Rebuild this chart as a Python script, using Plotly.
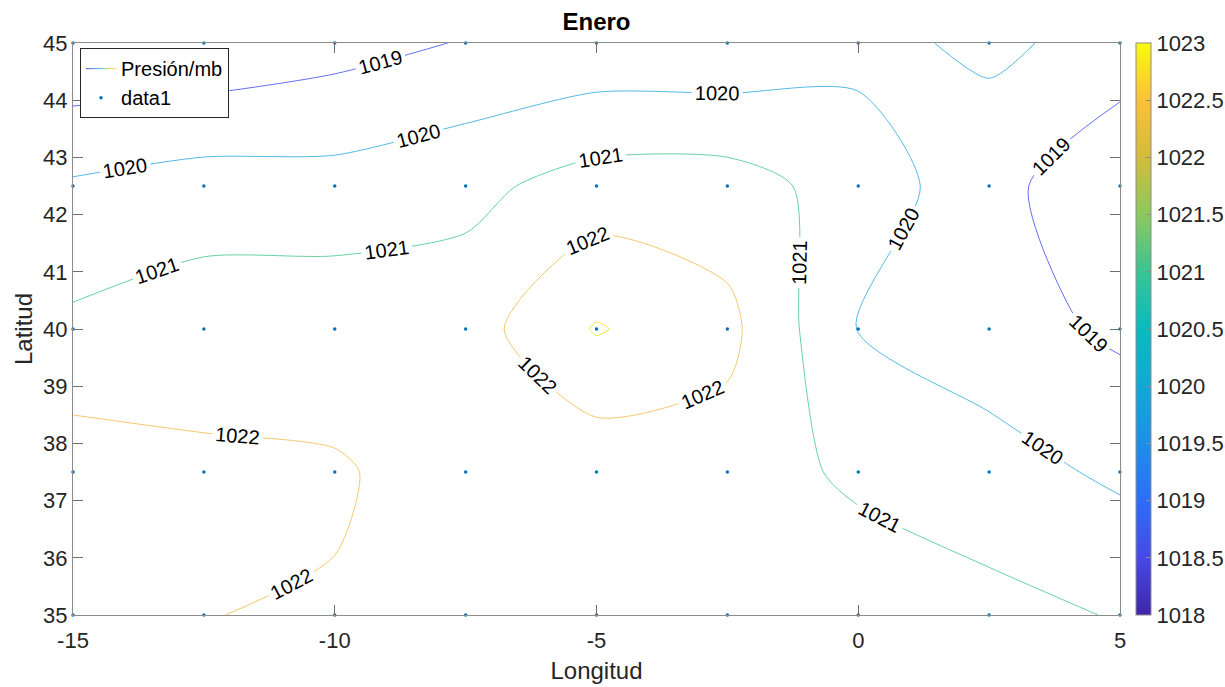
import plotly.graph_objects as go

# Station grid (longitude, latitude)
lon = [-15, -12.5, -10, -7.5, -5, -2.5, 0, 2.5, 5]
lat = [35, 37.5, 40, 42.5, 45]

# Pressure (mb), one list per latitude row
p_lat35 = [1022.40, 1022.01, 1021.95, 1021.60, 1021.50, 1021.60, 1021.66, 1021.30, 1020.94]
p_lat37_5 = [1022.53, 1022.17, 1022.07, 1021.70, 1021.33, 1021.55, 1020.80, 1020.40, 1019.82]
p_lat40 = [1021.20, 1021.55, 1021.65, 1021.55, 1023.08, 1022.26, 1019.97, 1019.45, 1018.82]
p_lat42_5 = [1020.13, 1020.46, 1020.38, 1020.73, 1021.43, 1021.45, 1020.55, 1019.39, 1018.10]
p_lat45 = [1018.11, 1018.19, 1018.62, 1019.06, 1019.25, 1019.21, 1019.72, 1020.20, 1019.63]

x_ticks = [-15, -10, -5, 0, 5]
x_ticktext = ["-15", "-10", "-5", "0", "5"]
y_ticks = [35, 36, 37, 38, 39, 40, 41, 42, 43, 44, 45]
cb_ticks = [1018, 1018.5, 1019, 1019.5, 1020, 1020.5, 1021, 1021.5, 1022, 1022.5, 1023]

z = [p_lat35, p_lat37_5, p_lat40, p_lat42_5, p_lat45]

parula = [
    [0.0, "rgb(62,38,168)"], [0.1, "rgb(71,73,230)"], [0.2, "rgb(44,110,248)"],
    [0.3, "rgb(30,143,232)"], [0.4, "rgb(18,168,214)"], [0.5, "rgb(10,186,190)"],
    [0.6, "rgb(58,196,148)"], [0.7, "rgb(140,201,92)"], [0.8, "rgb(210,188,60)"],
    [0.9, "rgb(252,192,58)"], [1.0, "rgb(249,251,14)"],
]
line_scale = [
    [0.0, "rgb(90,70,200)"], [0.2, "rgb(100,112,240)"], [0.4, "rgb(85,185,230)"],
    [0.6, "rgb(105,210,160)"], [0.8, "rgb(245,200,110)"], [1.0, "rgb(240,232,40)"],
]

FONT = "Liberation Sans, Arial, sans-serif"
TXT = "#262626"

xs = [x for _ in lat for x in lon]
ys = [y for y in lat for _ in lon]

fig = go.Figure()
fig.add_trace(go.Contour(
    x=lon, y=lat, z=z,
    zmin=1018, zmax=1023, colorscale=line_scale, showscale=False,
    # level list starts far below the data so plotly spaces labels more densely
    contours=dict(start=744, end=1023, size=1, coloring="lines", showlabels=True,
                  labelfont=dict(size=20, color="black", family=FONT)),
    line=dict(width=1, smoothing=0.7),
    name="Presión/mb", showlegend=True, hoverinfo="skip",
))
fig.add_trace(go.Scatter(
    x=xs, y=ys, mode="markers", marker=dict(size=3.5, color="#0072BD"),
    name="data1", cliponaxis=False, hoverinfo="skip",
))
fig.add_trace(go.Scatter(
    x=[None], y=[None], mode="markers", showlegend=False, hoverinfo="skip",
    marker=dict(color=[1018], cmin=1018, cmax=1023, colorscale=parula, showscale=True,
                colorbar=dict(thickness=15, thicknessmode="pixels", len=1, lenmode="fraction",
                              x=1.0153, xanchor="left", xpad=0, y=0.5, yanchor="middle", ypad=0,
                              outlinewidth=1, outlinecolor="#8c8c8c",
                              tickvals=cb_ticks, ticktext=[("%g" % v) for v in cb_ticks],
                              ticks="inside", ticklen=5, tickcolor="#8c8c8c",
                              tickfont=dict(size=22, color=TXT, family=FONT))),
))

axis_common = dict(showgrid=False, zeroline=False, showline=True, linecolor="#8c8c8c", linewidth=1,
                   mirror="ticks", ticks="inside", ticklen=10, tickcolor="#6e6e6e",
                   tickfont=dict(size=22, color=TXT, family=FONT))
fig.update_xaxes(range=[-15, 5], tickvals=x_ticks, ticktext=x_ticktext, ticklabelstandoff=6,
                 title=dict(text="Longitud", font=dict(size=24, color=TXT, family=FONT), standoff=9),
                 **axis_common)
fig.update_yaxes(range=[35, 45], tickvals=y_ticks,
                 title=dict(text="Latitud", font=dict(size=24, color=TXT, family=FONT), standoff=3),
                 **axis_common)

fig.update_layout(
    width=1225, height=687,
    margin=dict(l=73, r=105, t=43, b=72, pad=0, autoexpand=False),
    paper_bgcolor="white", plot_bgcolor="white",
    title=dict(text="<b>Enero</b>", x=596.5 / 1225, xanchor="center", y=1 - 22 / 687, yanchor="middle",
               font=dict(size=24, color="black", family=FONT)),
    legend=dict(x=0.0067, y=0.991, xanchor="left", yanchor="top", bgcolor="white",
                bordercolor="#262626", borderwidth=1, font=dict(size=20, color="black", family=FONT),
                tracegroupgap=0),
    showlegend=True,
)
fig.write_html("out.html")
